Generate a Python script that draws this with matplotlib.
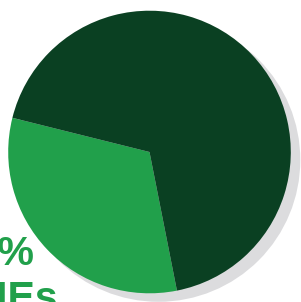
import matplotlib
matplotlib.use("Agg")
import matplotlib.pyplot as plt
from matplotlib.patches import Circle

# slice shares (light = SMEs, dark = rest)
SEGMENTS = ["SMEs", "Other"]
SHARES = [32, 68]
COLORS = ["#21a04b", "#0a4022"]
LABEL_PCT = "32%"
LABEL_NAME = "SMEs"

W, H = 301, 302

fig = plt.figure(figsize=(W / 100, H / 100), dpi=100)
fig.patch.set_facecolor("white")
ax = fig.add_axes([0, 0, 1, 1])

cx, cy, r = 149.5, H - 152, 141.3

# drop shadow behind the pie
ax.add_patch(Circle((cx + 9, cy - 8), r + 0.5, facecolor="#dcdcde",
                    edgecolor="none", zorder=1))

wedges, _ = ax.pie(SHARES, colors=COLORS, startangle=166, counterclock=True,
                   center=(cx, cy), radius=r,
                   wedgeprops=dict(linewidth=0, edgecolor="none"))
for w in wedges:
    w.set_zorder(2)

ax.text(34, H - 265, LABEL_PCT, ha="right", va="baseline", color="#21a04b",
        fontsize=29.5, fontweight="bold", family="Liberation Sans", zorder=3)
ax.text(58, H - 310, LABEL_NAME, ha="right", va="baseline", color="#21a04b",
        fontsize=29.5, fontweight="bold", family="Liberation Sans", zorder=3)

ax.set_xlim(0, W)
ax.set_ylim(0, H)
ax.set_aspect("auto")
ax.axis("off")

fig.savefig("out.png", dpi=100)
